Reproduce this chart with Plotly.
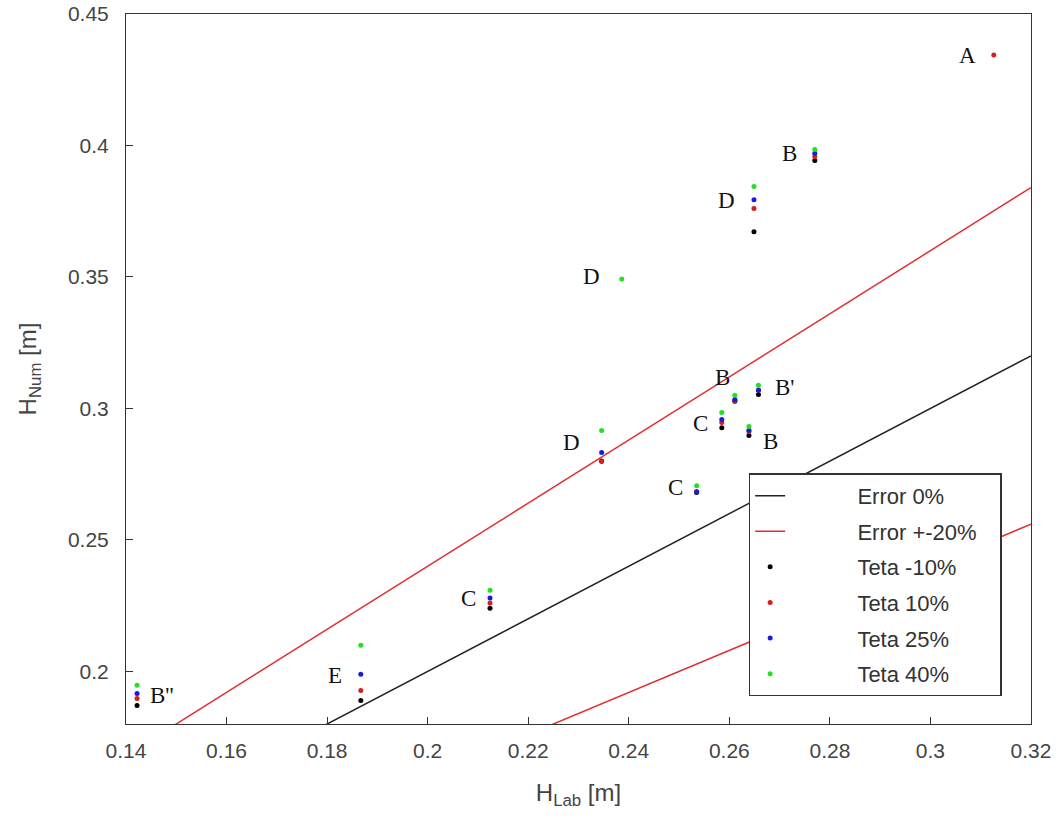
import plotly.graph_objects as go

# Reference lines
line_x = [0.14, 0.32]
err0_y = [0.14, 0.32]          # y = x
err_plus_y = [0.168, 0.384]    # y = 1.2 x
err_minus_y = [0.112, 0.256]   # y = 0.8 x

# Measured (lab) heights per case
h_lab = [0.3126, 0.277, 0.2649, 0.2386, 0.2346, 0.2611, 0.2658, 0.2585, 0.2639, 0.2535, 0.2124, 0.1867, 0.1422]

# Numerical heights for each Teta value (None where not plotted)
teta_m10 = [None, 0.3943, 0.3672, None, 0.2800, 0.3027, 0.3053, 0.2927, 0.2897, 0.2680, 0.2240, 0.1889, 0.1870]
teta_10 = [0.4344, 0.3958, 0.3760, None, 0.2798, 0.3030, 0.3069, 0.2947, 0.2912, 0.2683, 0.2260, 0.1927, 0.1897]
teta_25 = [None, 0.3970, 0.3794, None, 0.2832, 0.3034, 0.3070, 0.2958, 0.2917, 0.2683, 0.2279, 0.1989, 0.1916]
teta_40 = [None, 0.3985, 0.3844, 0.3492, 0.2916, 0.3050, 0.3088, 0.2985, 0.2931, 0.2706, 0.2309, 0.2099, 0.1947]

# Case labels
label_text = ["A", "B", "D", "D", "B", "B'", "C", "B", "D", "C", "C", "E", "B''"]
label_x = [0.3074, 0.2720, 0.2595, 0.2325, 0.2587, 0.2710, 0.2543, 0.2682, 0.2287, 0.2493, 0.2082, 0.1816, 0.1472]
label_y = [0.4344, 0.3970, 0.3790, 0.3500, 0.3118, 0.3080, 0.2943, 0.2874, 0.2870, 0.2698, 0.2279, 0.1985, 0.1908]

# legend text indent (non-breaking spaces)
PAD = "\u00a0" * 11
TAIL = "\u00a0" * 3

fig = go.Figure()
fig.add_trace(go.Scatter(x=line_x, y=err0_y, mode="lines", name=PAD + "Error 0%",
                         line=dict(color="#222222", width=1.5), legendgroup="g0"))
fig.add_trace(go.Scatter(x=line_x, y=err_plus_y, mode="lines", name=PAD + "Error +-20%" + TAIL,
                         line=dict(color="#e03030", width=1.5), legendgroup="g1"))
fig.add_trace(go.Scatter(x=line_x, y=err_minus_y, mode="lines", name="Error +-20%",
                         line=dict(color="#e03030", width=1.5), legendgroup="g1", showlegend=False))

series = [("Teta -10%", teta_m10, "#000000"),
          ("Teta 10%", teta_10, "#d42020"),
          ("Teta 25%", teta_25, "#1a1ae0"),
          ("Teta 40%", teta_40, "#22e022")]
for i, (name, ys, col) in enumerate(series):
    xs = [x for x, y in zip(h_lab, ys) if y is not None]
    yv = [y for y in ys if y is not None]
    fig.add_trace(go.Scatter(x=xs, y=yv, mode="markers", name=PAD + name,
                             marker=dict(color=col, size=5), legendgroup=f"t{i}"))

for t, x, y in zip(label_text, label_x, label_y):
    fig.add_annotation(x=x, y=y, text=t, showarrow=False,
                       font=dict(family="Liberation Serif", size=23, color="#111111"))

axis_common = dict(showline=True, linecolor="#333333", linewidth=1, mirror=True,
                   ticks="inside", ticklen=7, tickcolor="#333333", showgrid=False,
                   zeroline=False, automargin=False,
                   tickfont=dict(family="Liberation Sans", size=21, color="#444444"))

fig.update_layout(
    width=1064, height=820,
    paper_bgcolor="white", plot_bgcolor="white",
    margin=dict(l=126, r=33, t=14, b=96),
    xaxis=dict(range=[0.14, 0.32], dtick=0.02, tickformat="~g", ticklabelstandoff=8,
               title=dict(text="H<sub>Lab</sub> [m]", standoff=22,
                          font=dict(family="Liberation Sans", size=24, color="#444444")),
               **axis_common),
    yaxis=dict(range=[0.18, 0.45], tickvals=[0.2, 0.25, 0.3, 0.35, 0.4, 0.45],
               ticktext=["0.2", "0.25", "0.3", "0.35", "0.4", "0.45"], ticklabelstandoff=12,
               title=dict(text="H<sub>Num</sub> [m]", standoff=24,
                          font=dict(family="Liberation Sans", size=24, color="#444444")),
               **axis_common),
    legend=dict(x=0.688, y=0.353, xanchor="left", yanchor="top",
                bordercolor="#333333", borderwidth=1.5, bgcolor="white",
                font=dict(family="Liberation Sans", size=22, color="#333333"),
                traceorder="grouped", tracegroupgap=4),
    showlegend=True,
)

fig.write_html("out.html")
